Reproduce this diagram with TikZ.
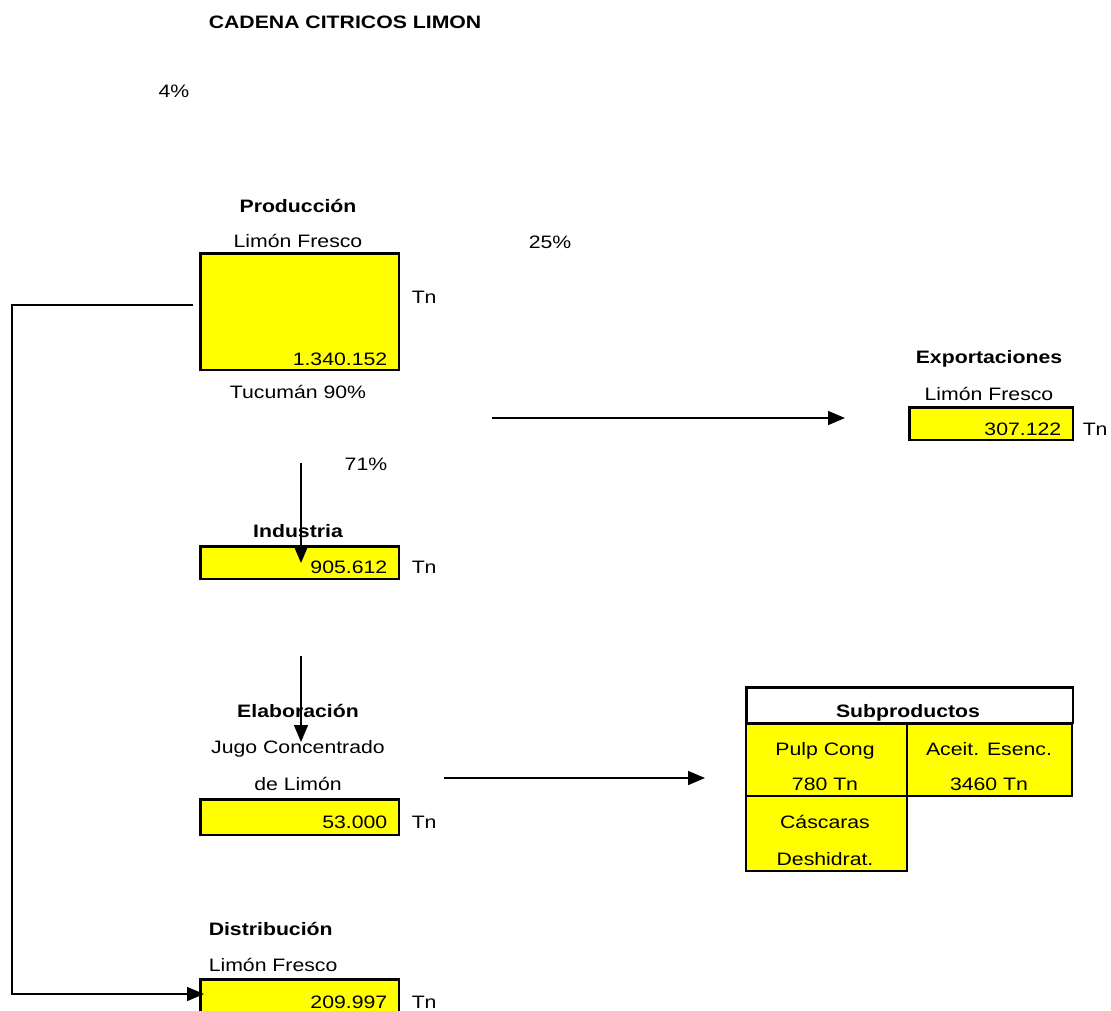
\documentclass[tikz,border=0pt]{standalone}
\usepackage{fontspec}
\setmainfont[FakeStretch=1.18]{Liberation Sans}
\usetikzlibrary{arrows.meta}
\definecolor{cellyellow}{RGB}{255,255,0}
\begin{document}
\begin{tikzpicture}[x=1pt, y=-1pt, font=\fontsize{18}{22}\selectfont,
    >={Triangle[length=17pt,width=14pt]}, line width=1.5pt,
    box node/.style={draw, fill=cellyellow, line width=2.5pt, anchor=north west, inner sep=0pt},
    cell node/.style={draw, fill=cellyellow, line width=2pt, anchor=north west, inner sep=0pt},
    text node/.style={anchor=base, inner sep=0pt},
    value node/.style={anchor=base east, inner sep=0pt},
    unit node/.style={anchor=base west, inner sep=0pt}]

                \useasboundingbox (0,0) rectangle (1111,1010);

                \node[text node, anchor=base west, font=\fontsize{18}{22}\selectfont\bfseries] at (208, 28) (title) {CADENA CITRICOS LIMON};
                \node[text node] at (174, 97) (pcta) {4\%};

                % produccion
                \node[text node, font=\fontsize{18}{22}\selectfont\bfseries] at (298, 212) (prodhead) {Producción};
                \node[text node] at (298, 247) (prodsub) {Limón Fresco};
                \node[text node] at (550, 248) (pctb) {25\%};
                \node[box node, minimum width=198.5pt, minimum height=116.5pt] at (199.25, 252.25) (prod) {};
                \node[value node] at (388, 365) (prodval) {1.340.152};
                \node[unit node] at (411, 303) (produnit) {Tn};
                \node[text node] at (298, 398) (prodfoot) {Tucumán 90\%};

                % exportaciones
                \node[text node, font=\fontsize{18}{22}\selectfont\bfseries] at (989, 363) (expohead) {Exportaciones};
                \node[text node] at (989, 400) (exposub) {Limón Fresco};
                \node[box node, minimum width=163.5pt, minimum height=32.5pt] at (908.25, 406.25) (expo) {};
                \node[value node] at (1062, 435) (expoval) {307.122};
                \node[unit node] at (1082, 435) (expounit) {Tn};

                % industria
                \node[text node] at (366, 470) (pctc) {71\%};
                \node[text node, font=\fontsize{18}{22}\selectfont\bfseries] at (298, 537) (indhead) {Industria};
                \node[box node, minimum width=198.5pt, minimum height=32.5pt] at (199.25, 545.25) (ind) {};
                \node[value node] at (388, 573) (indval) {905.612};
                \node[unit node] at (411, 573) (indunit) {Tn};

                % elaboracion
                \node[text node, font=\fontsize{18}{22}\selectfont\bfseries] at (298, 717) (elabhead) {Elaboración};
                \node[text node] at (298, 753) (elabsub) {Jugo Concentrado};
                \node[text node] at (298, 790) (elabsubb) {de Limón};
                \node[box node, minimum width=198.5pt, minimum height=35.5pt] at (199.25, 798.25) (elab) {};
                \node[value node] at (388, 828) (elabval) {53.000};
                \node[unit node] at (411, 828) (elabunit) {Tn};

                % subproductos
                \node[cell node, minimum width=161pt, minimum height=72pt] at (745, 723) (pulp) {};
                \node[cell node, minimum width=165pt, minimum height=72pt] at (906, 723) (aceite) {};
                \node[cell node, minimum width=161pt, minimum height=75pt] at (745, 795) (cascara) {};
                \node[draw, fill=white, line width=2.5pt, anchor=north west, inner sep=0pt, minimum width=326.5pt, minimum height=35.5pt] at (745.25, 686.25) (subhead) {};
                \node[text node, font=\fontsize{18}{22}\selectfont\bfseries] at (908, 717) (subtitle) {Subproductos};
                \node[text node] at (825, 755) (pulpa) {Pulp Cong};
                \node[text node] at (825, 790) (pulpb) {780 Tn};
                \node[text node] at (989, 755) (aceitea) {Aceit. Esenc.};
                \node[text node] at (989, 790) (aceiteb) {3460 Tn};
                \node[text node] at (825, 828) (cascaraa) {Cáscaras};
                \node[text node] at (825, 865) (cascarab) {Deshidrat.};

                % distribucion
                \node[text node, anchor=base west, font=\fontsize{18}{22}\selectfont\bfseries] at (208, 935) (disthead) {Distribución};
                \node[text node, anchor=base west] at (208, 971) (distsub) {Limón Fresco};
                \node[box node, minimum width=198.5pt, minimum height=40pt] at (199.25, 978.25) (dist) {};
                \node[value node] at (388, 1008) (distval) {209.997};
                \node[unit node] at (411, 1008) (distunit) {Tn};

                \coordinate (expofrom) at (492, 418);
                \coordinate (expoto) at (845, 418);
                \coordinate (indfrom) at (301, 463);
                \coordinate (indto) at (301, 563);
                \coordinate (elabfrom) at (301, 656);
                \coordinate (elabto) at (301, 742);
                \coordinate (subfrom) at (444, 778);
                \coordinate (subto) at (705, 778);
                \coordinate (leftfrom) at (193, 305);
                \coordinate (lefttop) at (12, 305);
                \coordinate (leftbot) at (12, 994);
                \coordinate (distto) at (204, 994);

                \path[->] (expofrom) edge (expoto);
                \path[->] (indfrom) edge (indto);
                \path[->] (elabfrom) edge (elabto);
                \path[->] (subfrom) edge (subto);
                \draw[->] (leftfrom) -- (lefttop) -- (leftbot) -- (distto);
            \end{tikzpicture}
\end{document}
